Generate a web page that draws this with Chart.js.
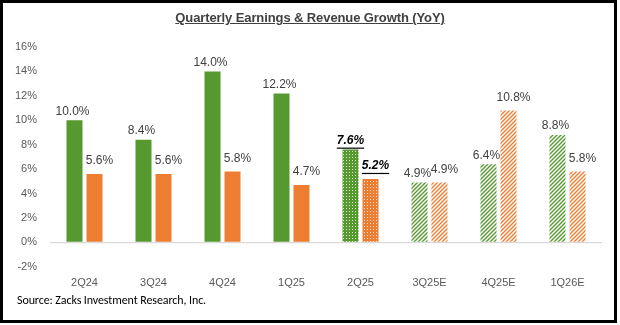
<!DOCTYPE html>
<html>
<head>
<meta charset="utf-8">
<script src="https://cdn.jsdelivr.net/npm/chart.js@4"></script>
<style>
	html, body { margin: 0; padding: 0; background: #cfcfcf; }
	#wrap { position: relative; width: 620px; height: 325px; background: #fff; overflow: hidden; }
	#chart { position: absolute; left: 0; top: 0; }
	#frame { position: absolute; left: 0; top: 0; width: 617px; height: 323px; box-sizing: border-box; border: 3px solid #000; pointer-events: none; }
	#title { position: absolute; left: 0; width: 620px; top: 10px; text-align: center; font: bold 13px "Liberation Sans", Arial, sans-serif; color: #404040; text-decoration: underline; letter-spacing: -0.1px; }
	#source { position: absolute; left: 17px; top: 293px; font: 12px Carlito, "Open Sans", "Liberation Sans", sans-serif; color: #000; letter-spacing: -0.1px; }
</style>
</head>
<body>
<div id="wrap">
	<canvas id="chart" width="620" height="325"></canvas>
	<div id="title">Quarterly Earnings &amp; Revenue Growth (YoY)</div>
	<div id="source">Source: Zacks Investment Research, Inc.</div>
	<div id="frame"></div>
</div>
<script>
// 데이터
const quarters = ['2Q24', '3Q24', '4Q24', '1Q25', '2Q25', '3Q25E', '4Q25E', '1Q26E'];
const earningsGrowth = [10.0, 8.4, 14.0, 12.2, 7.6, 4.9, 6.4, 8.8];
const revenueGrowth = [5.6, 5.6, 5.8, 4.7, 5.2, 4.9, 10.8, 5.8];
const yTicks = [-2, 0, 2, 4, 6, 8, 10, 12, 14, 16];
const currentQuarter = '2Q25';

const GREEN = '#56992f';
const ORANGE = '#ed7d31';

// 점무늬 (현재 분기)
function dotPattern(color) {
	const c = document.createElement('canvas');
	c.width = 3; c.height = 3;
	const g = c.getContext('2d');
	g.fillStyle = color;
	g.fillRect(0, 0, 3, 3);
	g.fillStyle = 'rgba(255,255,255,0.8)';
	g.fillRect(1, 1, 1, 1);
	return g.createPattern(c, 'repeat');
}

// 사선 무늬 (추정치)
function stripePattern(color) {
	const c = document.createElement('canvas');
	c.width = 4; c.height = 4;
	const g = c.getContext('2d');
	g.fillStyle = '#fff';
	g.fillRect(0, 0, 4, 4);
	g.strokeStyle = color;
	g.lineWidth = 1.4;
	g.beginPath();
	g.moveTo(-1, 5); g.lineTo(5, -1);
	g.moveTo(-1, 1); g.lineTo(1, -1);
	g.moveTo(3, 5); g.lineTo(5, 3);
	g.stroke();
	return g.createPattern(c, 'repeat');
}

function fills(color) {
	return quarters.map(q => {
		if (q === currentQuarter) return dotPattern(color);
		if (q.endsWith('E')) return stripePattern(color);
		return color;
	});
}

// 막대 위 값 라벨
const valueLabels = {
	id: 'valueLabels',
	afterDatasetsDraw(chart) {
		const ctx = chart.ctx;
		ctx.save();
		ctx.textAlign = 'center';
		ctx.textBaseline = 'middle';
		chart.data.datasets.forEach((ds, di) => {
			const meta = chart.getDatasetMeta(di);
			meta.data.forEach((bar, i) => {
				const isCur = quarters[i] === currentQuarter;
				const text = ds.data[i].toFixed(1) + '%';
				const dx = di === 0 ? (isCur ? 0 : -2) : 5;
				const dy = di === 0 ? 9 : 13;
				const x = bar.x + dx;
				const y = bar.y - dy;
				ctx.font = (isCur ? 'italic bold ' : '') + '12px "Liberation Sans", Arial, sans-serif';
				ctx.fillStyle = isCur ? '#000' : '#404040';
				ctx.fillText(text, x, y);
				if (isCur) {
					const w = ctx.measureText(text).width;
					ctx.fillRect(x - w / 2, y + 7, w, 1.2);
				}
			});
		});
		ctx.restore();
	}
};

new Chart(document.getElementById('chart'), {
	type: 'bar',
	data: {
		labels: quarters,
		datasets: [
			{ label: 'Earnings', data: earningsGrowth, backgroundColor: fills(GREEN), categoryPercentage: 0.58, barPercentage: 0.8 },
			{ label: 'Revenue', data: revenueGrowth, backgroundColor: fills(ORANGE), categoryPercentage: 0.58, barPercentage: 0.8 }
		]
	},
	options: {
		responsive: false,
		animation: false,
		layout: { padding: { top: 47, right: 18, bottom: 33, left: 0 } },
		plugins: { legend: { display: false }, tooltip: { enabled: false } },
		scales: {
			x: {
				grid: { display: false },
				border: { display: false },
				ticks: { color: '#595959', font: { family: '"Liberation Sans", Arial, sans-serif', size: 11 }, padding: 2 }
			},
			y: {
				min: -2, max: 16,
				afterFit: s => { s.width = 50; },
				afterBuildTicks: s => { s.ticks = yTicks.map(v => ({ value: v })); },
				border: { display: false },
				grid: {
					drawTicks: false,
					color: c => c.tick && c.tick.value === 0 ? '#d9d9d9' : 'transparent',
					lineWidth: 1.3
				},
				ticks: {
					color: '#595959',
					padding: 13,
					font: { family: '"Liberation Sans", Arial, sans-serif', size: 11 },
					callback: v => v + '%'
				}
			}
		}
	},
	plugins: [valueLabels]
});
</script>
</body>
</html>
